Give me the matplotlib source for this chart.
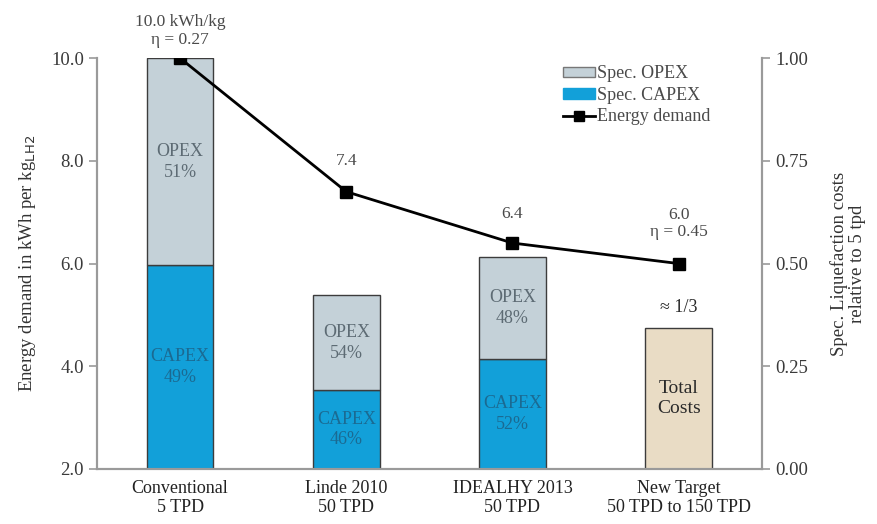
import numpy as np
import matplotlib.pyplot as plt
from matplotlib.patches import Patch
from matplotlib.lines import Line2D

plt.rcParams["font.family"] = ["Liberation Serif", "DejaVu Serif"]

# --- data ---
categories = ["Conventional\n5 TPD", "Linde 2010\n50 TPD", "IDEALHY 2013\n50 TPD",
              "New Target\n50 TPD to 150 TPD"]
capex = [0.496, 0.192, 0.268]          # relative cost, first three plants
total_cost = [1.0, 0.423, 0.516]
target_total = 0.343                    # new target, total costs only
capex_pct = ["49%", "46%", "52%"]
opex_pct = ["51%", "54%", "48%"]
energy = [10.0, 7.4, 6.4, 6.0]          # kWh per kg LH2
energy_labels = ["10.0 kWh/kg\nη = 0.27", "7.4", "6.4", "6.0\nη = 0.45"]

c_opex = "#c4d1d8"
c_capex = "#12a0d9"
c_total = "#e9dcc5"
c_edge = "#3c3c3c"
c_axis = "#9a9a9a"
c_text = "#4a4a4a"

fig = plt.figure(figsize=(8.77, 5.24), dpi=100)
ax = fig.add_axes([0.1106, 0.105, 0.758, 0.784])
ax2 = ax.twinx()

x = np.arange(len(categories))
w = 0.4
opex = [t - c for t, c in zip(total_cost, capex)]

# bars on the cost axis
ax2.bar(x[:3], capex, w, color=c_capex, edgecolor=c_edge, linewidth=1.0, zorder=2)
ax2.bar(x[:3], opex, w, bottom=capex, color=c_opex, edgecolor=c_edge, linewidth=1.0, zorder=2)
ax2.bar(x[3], target_total, w, color=c_total, edgecolor=c_edge, linewidth=1.0, zorder=2)

for i in range(3):
    ax2.text(x[i], capex[i] / 2, "CAPEX\n" + capex_pct[i], ha="center", va="center",
             fontsize=13, color="#1b6a92", linespacing=1.3)
    ax2.text(x[i], capex[i] + opex[i] / 2, "OPEX\n" + opex_pct[i], ha="center", va="center",
             fontsize=13, color="#5d6b74", linespacing=1.3)
ax2.text(x[3], target_total / 2, "Total\nCosts", ha="center", va="center",
         fontsize=14, color="#2a2a2a", linespacing=1.3)
ax2.text(x[3], target_total + 0.03, "≈ 1/3", ha="center", va="bottom",
         fontsize=13, color="#2a2a2a")

# energy demand line on the left axis (drawn above the bars)
ax.set_zorder(ax2.get_zorder() + 1)
ax.patch.set_visible(False)
ax.plot(x, energy, color="black", linewidth=2, marker="s", markersize=9, zorder=5)
label_offset = [0.2, 0.45, 0.4, 0.45]
for i, lab in enumerate(energy_labels):
    ax.text(x[i], energy[i] + label_offset[i], lab, ha="center", va="bottom",
            fontsize=12.5, color=c_text, linespacing=1.15)

ax.set_xlim(-0.5, 3.5)
ax.set_ylim(2.0, 10.0)
ax2.set_ylim(0.0, 1.0)
ax.set_yticks([2, 4, 6, 8, 10])
ax.set_yticklabels([f"{v:.1f}" for v in [2, 4, 6, 8, 10]])
ax2.set_yticks([0, 0.25, 0.5, 0.75, 1.0])
ax2.set_yticklabels(["0.00", "0.25", "0.50", "0.75", "1.00"])
ax.set_xticks(x)
ax.set_xticklabels(categories, fontsize=13, color="#222222", linespacing=1.15)
ax.tick_params(axis="x", length=0, pad=8)

for a in (ax, ax2):
    a.spines["top"].set_visible(False)
    for s in ("left", "right", "bottom"):
        a.spines[s].set_color(c_axis)
        a.spines[s].set_linewidth(1.5)
    a.tick_params(axis="y", colors=c_axis, labelcolor="#3a3a3a", labelsize=13.5, length=6, width=1.2)

ax.set_ylabel("Energy demand in kWh per kg$_{\\mathrm{LH2}}$", fontsize=13.5, color="#333333", labelpad=9)
ax2.set_ylabel("Spec. Liquefaction costs\nrelative to 5 tpd", fontsize=13.5, color="#333333",
               labelpad=16, linespacing=1.1)

handles = [Patch(facecolor=c_opex, edgecolor="#777777", label="Spec. OPEX"),
           Patch(facecolor=c_capex, edgecolor=c_capex, label="Spec. CAPEX"),
           Line2D([0], [0], color="black", linewidth=2, marker="s", markersize=7,
                  label="Energy demand")]
leg = ax.legend(handles=handles, loc="upper left", bbox_to_anchor=(0.69, 1.0), frameon=False,
                fontsize=13, handlelength=1.8, handleheight=0.5, handletextpad=0.1,
                labelspacing=0.25, borderaxespad=0)
for t in leg.get_texts():
    t.set_color(c_text)

fig.savefig("out.png", dpi=100)
